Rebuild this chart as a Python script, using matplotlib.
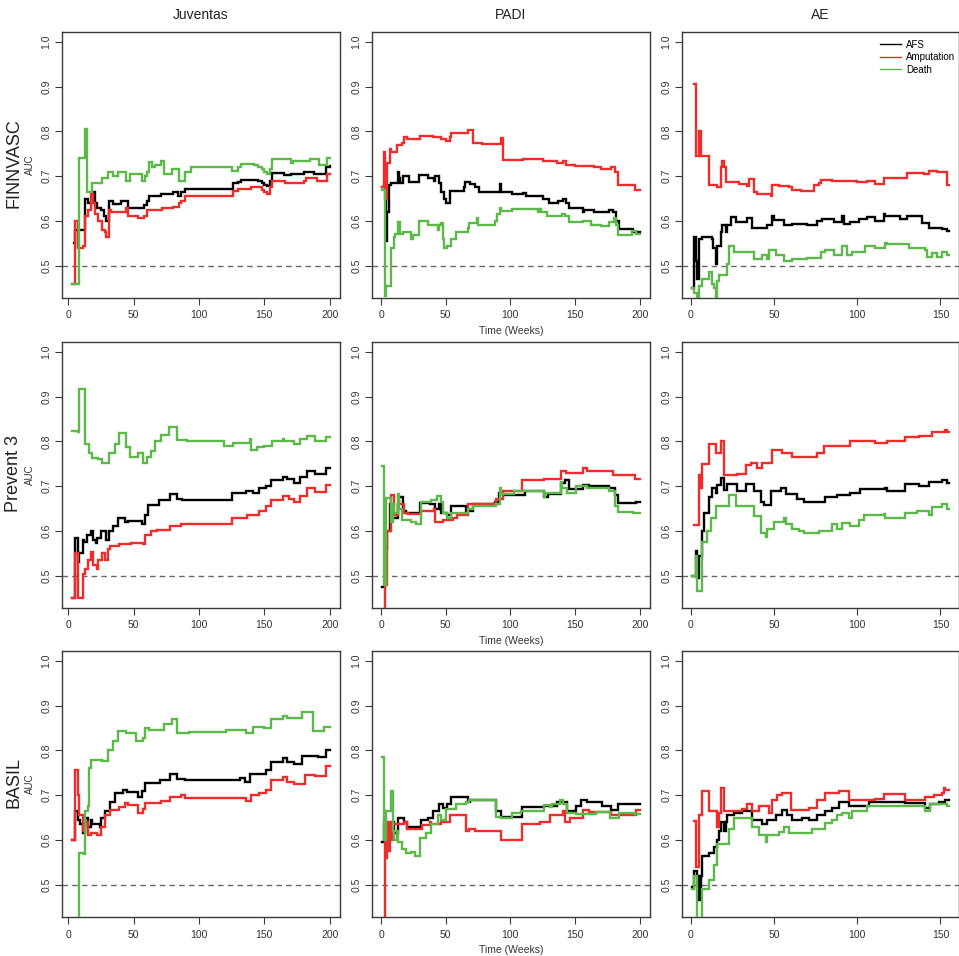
import numpy as np
import matplotlib
matplotlib.use("Agg")
import matplotlib.pyplot as plt

plt.rcParams['font.family'] = ['Liberation Sans', 'DejaVu Sans']

# ---------------- data (time in weeks, AUC) ----------------
studies = ["FINNVASC", "Prevent 3", "BASIL"]
models = ["Juventas", "PADI", "AE"]
outcomes = ["AFS", "Amputation", "Death"]
x_ranges = {"Juventas": (3, 200), "PADI": (1, 200), "AE": (1, 155)}
x_ticks = {"Juventas": [0, 50, 100, 150, 200], "PADI": [0, 50, 100, 150, 200], "AE": [0, 50, 100, 150]}
y_ticks = [0.5, 0.6, 0.7, 0.8, 0.9, 1.0]

# FINNVASC
juv_fin_afs = [(4,.55),(5,.58),(13,.65),(15,.64),(18,.665),(20,.64),(22,.63),(25,.625),(27,.61),(29,.60),(31,.645),(34,.638),(40,.645),(46,.63),(55,.628),(58,.635),(60,.645),(62,.655),(71,.66),(80,.665),(84,.655),(86,.665),(89,.672),(126,.685),(130,.688),(132,.692),(145,.69),(148,.685),(150,.68),(152,.677),(154,.69),(156,.708),(165,.702),(170,.705),(180,.71),(188,.706),(197,.72),(200,.722)]
juv_fin_amp = [(3,.46),(5,.60),(7,.54),(11,.545),(13,.61),(15,.625),(17,.66),(19,.64),(20,.615),(23,.60),(26,.58),(28,.575),(29,.565),(31,.625),(33,.62),(44,.63),(46,.61),(53,.607),(58,.61),(60,.625),(72,.63),(80,.632),(85,.64),(86,.645),(89,.655),(126,.668),(130,.672),(140,.675),(148,.67),(150,.665),(152,.66),(154,.675),(156,.69),(166,.685),(180,.69),(182,.695),(190,.69),(198,.705),(200,.705)]
juv_fin_death = [(3,.46),(8,.74),(13,.805),(14,.665),(18,.684),(26,.695),(30,.71),(34,.70),(38,.71),(44,.69),(47,.705),(56,.69),(59,.70),(60,.71),(62,.731),(64,.72),(66,.725),(71,.735),(73,.705),(79,.715),(85,.69),(89,.71),(94,.72),(125,.712),(130,.72),(132,.728),(142,.725),(145,.72),(148,.715),(150,.71),(152,.705),(154,.715),(156,.738),(170,.73),(172,.733),(185,.738),(192,.725),(198,.74),(200,.74)]

padi_fin_afs = [(1,.675),(4,.555),(5,.62),(6,.68),(8,.685),(13,.71),(14,.695),(15,.685),(17,.70),(22,.688),(29,.703),(36,.695),(41,.69),(42,.70),(45,.685),(46,.665),(49,.65),(50,.64),(53,.666),(64,.675),(65,.687),(69,.683),(73,.675),(76,.665),(92,.683),(93,.665),(101,.66),(110,.662),(112,.655),(125,.65),(130,.64),(137,.645),(141,.65),(143,.64),(145,.63),(150,.628),(156,.62),(157,.625),(165,.62),(176,.625),(179,.62),(182,.60),(184,.582),(195,.575),(200,.575)]
padi_fin_amp = [(1,.675),(2,.755),(3,.65),(5,.73),(7,.76),(8,.755),(12,.77),(16,.775),(18,.788),(20,.783),(30,.79),(40,.787),(46,.783),(50,.779),(53,.787),(54,.797),(67,.803),(71,.775),(78,.773),(93,.785),(94,.737),(110,.739),(125,.735),(136,.73),(141,.735),(143,.725),(150,.722),(165,.72),(170,.715),(178,.72),(181,.71),(183,.68),(196,.67),(200,.67)]
padi_fin_death = [(1,.67),(3,.432),(4,.455),(8,.54),(10,.565),(11,.57),(13,.597),(15,.57),(17,.575),(23,.56),(25,.568),(29,.60),(36,.59),(44,.58),(45,.59),(46,.595),(48,.56),(49,.54),(51,.545),(54,.56),(58,.575),(67,.585),(68,.595),(74,.607),(75,.59),(88,.60),(90,.615),(92,.63),(93,.623),(101,.627),(121,.62),(122,.627),(124,.62),(128,.61),(140,.615),(142,.61),(145,.598),(156,.60),(162,.59),(170,.588),(176,.597),(180,.607),(182,.59),(183,.568),(194,.578),(197,.572),(200,.572)]

ae_fin_afs = [(1,.45),(2,.565),(3,.51),(4,.47),(5,.56),(7,.565),(13,.56),(13.5,.54),(15,.505),(16,.545),(18,.575),(19,.59),(21,.575),(22,.59),(24,.608),(27,.597),(34,.606),(37,.585),(46,.59),(49,.612),(50,.603),(56,.59),(61,.593),(70,.59),(76,.60),(79,.605),(86,.598),(91,.61),(92,.593),(96,.598),(101,.605),(106,.608),(111,.60),(116,.615),(117,.61),(126,.605),(130,.612),(136,.61),(139,.595),(143,.585),(151,.583),(154,.578),(155,.578)]
ae_fin_amp = [(2,.905),(3,.745),(5,.80),(6,.745),(11,.68),(16,.675),(18,.72),(19,.735),(20,.72),(21,.688),(29,.683),(34,.678),(35,.693),(38,.665),(40,.66),(48,.655),(49,.68),(53,.678),(59,.675),(61,.67),(66,.668),(74,.68),(77,.685),(78,.692),(85,.69),(100,.688),(106,.69),(111,.683),(116,.697),(130,.708),(140,.706),(143,.712),(148,.71),(154,.68),(155,.68)]
ae_fin_death = [(1,.45),(2,.44),(4,.42),(5,.455),(7,.47),(11,.485),(13,.46),(14,.45),(15,.42),(16,.465),(17,.48),(22,.505),(23,.545),(26,.53),(38,.515),(43,.525),(46,.515),(47,.535),(51,.525),(56,.51),(61,.515),(70,.517),(78,.53),(81,.535),(86,.525),(91,.545),(94,.525),(97,.53),(105,.545),(111,.54),(117,.55),(118,.548),(131,.54),(141,.535),(142,.52),(145,.528),(148,.52),(151,.53),(154,.525),(155,.525)]

# Prevent 3
juv_p3_afs = [(3,.45),(5,.585),(7,.53),(8,.55),(11,.58),(12,.575),(14,.59),(17,.60),(19,.58),(21,.573),(22,.585),(25,.60),(29,.58),(31,.60),(34,.61),(38,.628),(43,.62),(46,.622),(56,.615),(59,.635),(61,.658),(69,.67),(78,.683),(83,.672),(87,.67),(125,.685),(136,.69),(141,.685),(146,.695),(151,.70),(155,.713),(164,.72),(167,.715),(173,.708),(177,.72),(183,.733),(189,.727),(197,.74),(200,.74)]
juv_p3_amp = [(3,.45),(5,.55),(7,.45),(11,.505),(13,.515),(15,.535),(17,.552),(19,.525),(22,.515),(23,.535),(26,.55),(28,.535),(30,.56),(32,.567),(39,.572),(47,.57),(48,.573),(57,.57),(59,.59),(63,.60),(68,.603),(78,.61),(86,.615),(125,.63),(137,.635),(146,.645),(151,.655),(155,.67),(164,.677),(169,.672),(173,.665),(177,.677),(183,.695),(189,.688),(197,.703),(200,.703)]
juv_p3_death = [(3,.824),(7,.82),(8,.916),(13,.795),(16,.775),(18,.763),(23,.76),(26,.751),(31,.775),(36,.795),(39,.818),(44,.788),(47,.765),(53,.775),(57,.752),(60,.765),(63,.778),(66,.80),(71,.815),(77,.833),(83,.803),(91,.80),(119,.79),(126,.797),(139,.805),(140,.78),(144,.788),(150,.79),(156,.80),(164,.805),(165,.80),(173,.795),(177,.805),(183,.812),(189,.80),(197,.81),(200,.81)]

padi_p3_afs = [(1,.475),(3,.56),(5,.60),(7,.66),(8,.63),(13,.66),(14,.675),(17,.645),(19,.64),(30,.662),(38,.66),(42,.65),(45,.66),(46,.64),(51,.635),(54,.655),(66,.645),(71,.66),(88,.665),(91,.685),(94,.68),(111,.69),(126,.675),(129,.683),(139,.708),(142,.713),(145,.693),(156,.703),(161,.70),(176,.695),(181,.68),(183,.663),(197,.665),(200,.665)]
padi_p3_amp = [(1,.42),(3,.48),(5,.60),(8,.68),(10,.635),(13,.66),(18,.64),(21,.637),(31,.645),(41,.648),(42,.62),(48,.625),(56,.63),(59,.635),(67,.66),(89,.672),(94,.69),(109,.713),(126,.715),(139,.735),(143,.73),(156,.74),(159,.735),(171,.733),(179,.725),(196,.717),(200,.717)]
padi_p3_death = [(1,.745),(2,.48),(4,.673),(8,.62),(9,.66),(10,.64),(13,.683),(14,.65),(16,.625),(23,.62),(27,.615),(31,.665),(39,.67),(43,.678),(46,.665),(48,.64),(51,.628),(54,.64),(67,.648),(71,.655),(89,.66),(92,.695),(93,.683),(103,.69),(126,.675),(127,.685),(139,.71),(140,.695),(144,.685),(151,.70),(159,.695),(176,.69),(181,.655),(183,.643),(195,.64),(200,.64)]

ae_p3_afs = [(1,.50),(3,.555),(4,.495),(5,.545),(7,.60),(8,.64),(11,.675),(13,.695),(15,.685),(16,.703),(18,.718),(20,.692),(22,.705),(28,.69),(33,.705),(38,.69),(42,.665),(44,.658),(48,.69),(54,.695),(57,.683),(64,.672),(68,.665),(81,.675),(88,.68),(96,.685),(102,.693),(117,.697),(118,.69),(129,.705),(137,.70),(143,.71),(151,.713),(154,.707),(155,.707)]
ae_p3_amp = [(2,.613),(5,.725),(6,.695),(7,.75),(11,.795),(15,.775),(18,.80),(20,.725),(28,.727),(33,.747),(36,.752),(40,.74),(43,.752),(49,.78),(55,.775),(61,.765),(76,.775),(80,.79),(96,.80),(111,.797),(118,.80),(129,.81),(137,.813),(145,.82),(153,.825),(154,.82),(155,.82)]
ae_p3_death = [(1,.50),(3,.545),(4,.465),(7,.575),(10,.60),(12,.628),(15,.655),(23,.68),(27,.655),(38,.633),(42,.595),(45,.587),(46,.605),(50,.62),(56,.63),(57,.615),(61,.605),(65,.60),(68,.595),(77,.60),(85,.615),(88,.605),(91,.617),(96,.61),(101,.625),(104,.635),(116,.637),(117,.628),(129,.64),(136,.645),(143,.635),(145,.653),(151,.66),(154,.65),(155,.65)]

# BASIL
juv_bas_afs = [(3,.60),(5,.665),(7,.645),(9,.635),(11,.615),(13,.65),(15,.63),(17,.645),(18,.635),(24,.63),(25,.65),(28,.665),(32,.685),(36,.705),(42,.712),(45,.708),(53,.695),(56,.71),(59,.728),(70,.733),(74,.735),(78,.747),(83,.737),(89,.733),(131,.738),(135,.73),(139,.748),(151,.756),(155,.775),(164,.782),(167,.775),(173,.77),(179,.787),(191,.785),(197,.80),(200,.80)]
juv_bas_amp = [(3,.60),(5,.757),(7,.70),(8,.655),(11,.62),(13,.64),(15,.61),(17,.615),(22,.61),(25,.63),(28,.655),(32,.667),(39,.673),(43,.682),(46,.678),(53,.66),(57,.67),(59,.682),(71,.688),(78,.695),(86,.70),(89,.693),(136,.688),(140,.70),(146,.705),(151,.712),(155,.733),(164,.74),(167,.73),(173,.725),(181,.745),(189,.743),(197,.765),(200,.765)]
juv_bas_death = [(8,.40),(8.5,.572),(12,.568),(13,.665),(15,.675),(16,.76),(17,.778),(26,.776),(30,.80),(34,.822),(38,.843),(44,.838),(52,.82),(57,.828),(59,.85),(62,.845),(73,.86),(79,.87),(83,.84),(89,.838),(92,.842),(121,.845),(136,.84),(141,.853),(150,.85),(155,.87),(164,.877),(167,.873),(179,.885),(187,.843),(196,.852),(200,.852)]

padi_bas_afs = [(1,.595),(2,.64),(3,.63),(9,.64),(10,.615),(13,.65),(18,.64),(20,.628),(27,.63),(31,.645),(36,.648),(40,.665),(45,.68),(48,.672),(51,.68),(54,.695),(67,.685),(69,.69),(89,.665),(93,.652),(109,.673),(126,.675),(136,.685),(144,.665),(151,.675),(155,.69),(159,.685),(171,.675),(178,.667),(183,.68),(200,.68)]
padi_bas_amp = [(1,.40),(3,.60),(4,.56),(5,.64),(6,.575),(7,.64),(8,.60),(9,.635),(18,.64),(20,.625),(32,.633),(38,.64),(39,.635),(46,.64),(53,.655),(66,.62),(68,.625),(73,.62),(93,.60),(109,.635),(123,.64),(131,.655),(141,.665),(142,.64),(146,.648),(156,.668),(161,.662),(178,.655),(197,.667),(200,.667)]
padi_bas_death = [(1,.785),(2,.60),(4,.665),(8,.71),(9,.62),(10,.60),(12,.62),(13,.595),(16,.58),(19,.57),(23,.573),(26,.565),(30,.605),(35,.615),(39,.635),(44,.655),(46,.645),(50,.67),(58,.68),(66,.685),(68,.69),(89,.652),(93,.65),(101,.66),(108,.665),(126,.678),(131,.673),(132,.68),(138,.69),(141,.68),(144,.66),(151,.658),(166,.662),(177,.65),(184,.66),(196,.658),(200,.658)]

ae_bas_afs = [(1,.495),(2,.53),(4,.52),(5,.465),(6,.52),(7,.565),(11,.57),(14,.585),(16,.60),(17,.62),(18,.64),(20,.62),(21,.64),(22,.655),(26,.66),(31,.665),(37,.645),(43,.635),(46,.645),(51,.655),(55,.667),(58,.655),(61,.645),(67,.648),(71,.645),(76,.655),(81,.665),(85,.672),(89,.685),(95,.675),(107,.685),(129,.683),(141,.672),(144,.68),(149,.685),(153,.69),(155,.69)]
ae_bas_amp = [(2,.643),(3,.54),(5,.655),(7,.71),(11,.665),(16,.628),(17,.66),(18,.715),(20,.665),(31,.67),(34,.68),(37,.665),(41,.675),(47,.66),(49,.69),(52,.70),(55,.705),(60,.668),(71,.672),(76,.69),(81,.705),(89,.71),(95,.69),(111,.692),(116,.703),(129,.69),(141,.695),(146,.70),(151,.705),(152,.715),(153,.712),(155,.712)]
ae_bas_death = [(1,.49),(2,.52),(4,.40),(7,.49),(11,.51),(14,.545),(16,.59),(23,.625),(26,.65),(37,.63),(41,.61),(45,.595),(46,.61),(53,.617),(56,.63),(59,.615),(73,.625),(81,.638),(85,.645),(88,.655),(91,.66),(95,.65),(97,.665),(106,.675),(141,.665),(144,.68),(154,.675),(155,.675)]

panels = {
    ("FINNVASC", "Juventas"): [juv_fin_afs, juv_fin_amp, juv_fin_death],
    ("FINNVASC", "PADI"): [padi_fin_afs, padi_fin_amp, padi_fin_death],
    ("FINNVASC", "AE"): [ae_fin_afs, ae_fin_amp, ae_fin_death],
    ("Prevent 3", "Juventas"): [juv_p3_afs, juv_p3_amp, juv_p3_death],
    ("Prevent 3", "PADI"): [padi_p3_afs, padi_p3_amp, padi_p3_death],
    ("Prevent 3", "AE"): [ae_p3_afs, ae_p3_amp, ae_p3_death],
    ("BASIL", "Juventas"): [juv_bas_afs, juv_bas_amp, juv_bas_death],
    ("BASIL", "PADI"): [padi_bas_afs, padi_bas_amp, padi_bas_death],
    ("BASIL", "AE"): [ae_bas_afs, ae_bas_amp, ae_bas_death],
}

# ---------------- styling ----------------
colors = ["#000000", "#EE2C2C", "#5DB84A"]
W, H = 959, 956
fig = plt.figure(figsize=(W / 100, H / 100), dpi=100)

col_left_px = [62, 372, 682]
col_width_px = [278, 278, 277]
row_top_px = [32, 342, 651]
h_px = 266

def r_lim(lo, hi):
    d = (hi - lo) * 0.04
    return lo - d, hi + d

spine_col = "#3a3a3a"
for ri, study in enumerate(studies):
    for ci, model in enumerate(models):
        l = col_left_px[ci] / W
        b = 1 - (row_top_px[ri] + h_px) / H
        ax = fig.add_axes([l, b, col_width_px[ci] / W, h_px / H])
        ax.axhline(0.5, color="#666666", lw=1.0, ls=(0, (4, 3)), zorder=1)
        for series, c in zip(panels[(study, model)], colors):
            arr = np.array(series)
            ax.plot(arr[:, 0], arr[:, 1], drawstyle="steps-post", color=c, lw=1.7,
                    solid_joinstyle="miter", zorder=3)
        ax.set_xlim(*r_lim(*x_ranges[model]))
        ax.set_ylim(*r_lim(0.45, 1.0))
        ax.set_xticks(x_ticks[model])
        ax.set_yticks(y_ticks)
        ax.set_yticklabels([f"{v:.1f}" for v in y_ticks], rotation=90, va="center")
        ax.tick_params(axis="both", direction="out", length=5, width=0.8, colors=spine_col,
                       labelsize=7.5, labelcolor="#333333", pad=4)
        ax.tick_params(axis="y", pad=2.5)
        for s in ax.spines.values():
            s.set_color(spine_col)
            s.set_linewidth(1.0)
        if model == "PADI":
            ax.set_xlabel("Time (Weeks)", fontsize=7.5, color="#333333", labelpad=4)
        if model == "Juventas":
            ax.set_ylabel("AUC", fontsize=7, color="#333333", labelpad=5)
            fig.text(14 / W, 1 - (row_top_px[ri] + 131) / H, study, rotation=90,
                     fontsize=13, ha="center", va="center", color="#222222")
        if ri == 0:
            fig.text((col_left_px[ci] + col_width_px[ci] / 2) / W, 1 - 15 / H, model,
                     fontsize=10, ha="center", va="center", color="#222222")
        if ri == 0 and model == "AE":
            handles = [plt.Line2D([], [], color=c, lw=1.0) for c in colors]
            ax.legend(handles, outcomes, loc="upper right", frameon=False, fontsize=7,
                      handlelength=2.2, handletextpad=0.5, labelspacing=0.25,
                      borderaxespad=0.0, bbox_to_anchor=(1.0, 0.985))

fig.savefig("out.png", dpi=100)
